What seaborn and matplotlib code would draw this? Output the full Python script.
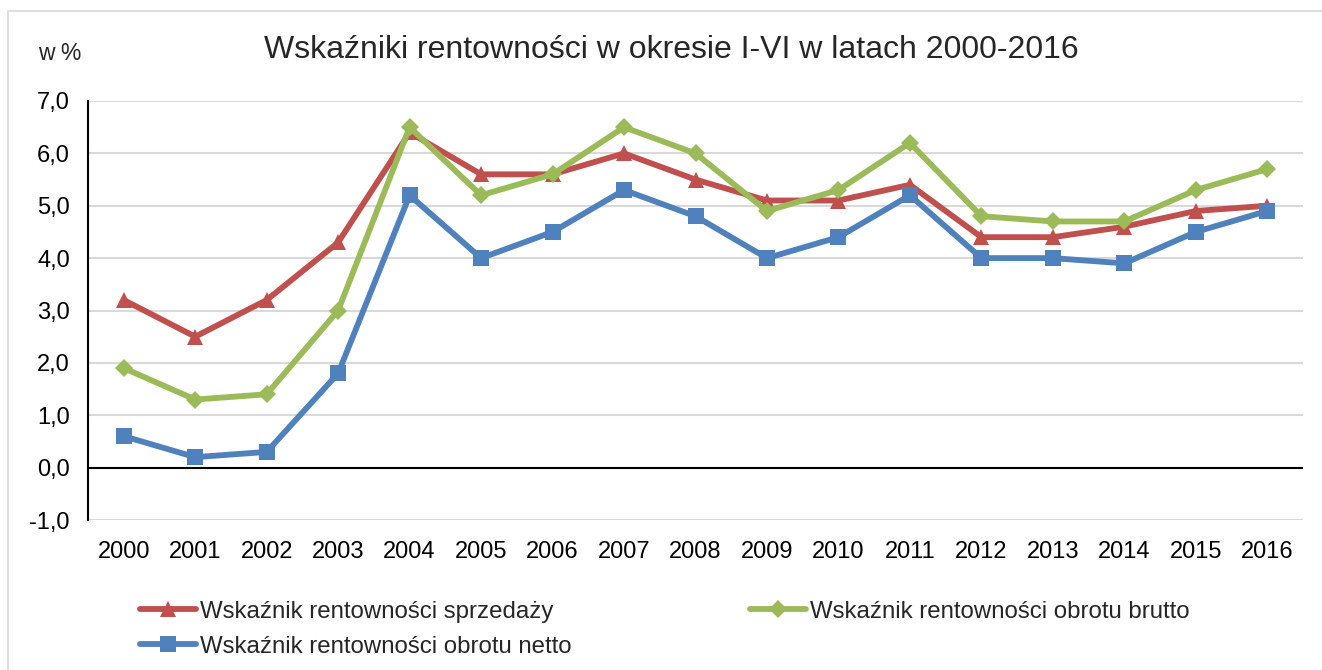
import numpy as np
import pandas as pd
import matplotlib
matplotlib.use("Agg")
import matplotlib.pyplot as plt
import seaborn as sns
from matplotlib.patches import Rectangle
from matplotlib.ticker import FuncFormatter

years = [2000, 2001, 2002, 2003, 2004, 2005, 2006, 2007, 2008,
         2009, 2010, 2011, 2012, 2013, 2014, 2015, 2016]
sprzedazy = [3.2, 2.5, 3.2, 4.3, 6.4, 5.6, 5.6, 6.0, 5.5,
             5.1, 5.1, 5.4, 4.4, 4.4, 4.6, 4.9, 5.0]
brutto = [1.9, 1.3, 1.4, 3.0, 6.5, 5.2, 5.6, 6.5, 6.0,
          4.9, 5.3, 6.2, 4.8, 4.7, 4.7, 5.3, 5.7]
netto = [0.6, 0.2, 0.3, 1.8, 5.2, 4.0, 4.5, 5.3, 4.8,
         4.0, 4.4, 5.2, 4.0, 4.0, 3.9, 4.5, 4.9]
series_names = ["Wskaźnik rentowności sprzedaży",
                "Wskaźnik rentowności obrotu brutto",
                "Wskaźnik rentowności obrotu netto"]
title = "Wskaźniki rentowności w okresie I-VI w latach 2000-2016"
unit_label = "w %"

sns.set_style("white")
plt.rcParams['font.family'] = ['Liberation Sans', 'DejaVu Sans']

fig = plt.figure(figsize=(13.22, 6.70), dpi=100)
ax = fig.add_axes([88/1322, 1 - 520/670, (1303-88)/1322, (520-101)/670])

colors = ["#C0504D", "#9BBB59", "#4F81BD"]
markers = ["^", "D", "s"]
msizes = [11, 9, 11]
for vals, name, c, m, ms, z in zip([sprzedazy, brutto, netto], series_names,
                                   colors, markers, msizes, [3, 4, 5]):
    df = pd.DataFrame({"year": years, "value": vals})
    sns.lineplot(data=df, x="year", y="value", ax=ax, color=c, linewidth=4.2,
                 marker=m, markersize=ms, markeredgewidth=0, label=name,
                 zorder=z)

ax.set_xlim(1999.5, 2016.5)
ax.set_ylim(-1, 7)
ax.set_yticks(np.arange(-1, 7.01, 1))
ax.yaxis.set_major_formatter(FuncFormatter(lambda v, p: f"{v:.1f}".replace(".", ",")))
ax.set_xticks(years)
ax.set_xticklabels([str(y) for y in years])
ax.tick_params(axis="both", labelsize=17, length=0, colors="black")
ax.tick_params(axis="x", pad=15)
ax.tick_params(axis="y", pad=13)
ax.set_xlabel("")
ax.set_ylabel("")
ax.grid(axis="y", color="#D9D9D9", linewidth=1.5)
ax.set_axisbelow(True)
for s in ["top", "right", "bottom"]:
    ax.spines[s].set_visible(False)
ax.spines["left"].set_color("black")
ax.spines["left"].set_linewidth(1.5)
ax.axhline(0, color="black", linewidth=1.5, zorder=2)

ax.get_legend().remove()
handles, labels = ax.get_legend_handles_labels()
order = [0, 2, 1]
fig.legend([handles[i] for i in order], [labels[i] for i in order],
           ncol=2, loc="upper left",
           bbox_to_anchor=(130/1322, 1 - 591/670), frameon=False,
           fontsize=17.3, handlelength=2.35, handletextpad=0.17,
           columnspacing=7.4, labelspacing=0.55, borderaxespad=0)

fig.text(671/1322, 1 - 50/670, title, ha="center", va="center", fontsize=23)
fig.text(38/1322, 1 - 53/670, unit_label, ha="left", va="center", fontsize=16.5)

fig.patches.append(Rectangle((8/1322, -0.1), 1.2, 1 - 11/670 + 0.1,
                             transform=fig.transFigure, fill=False,
                             edgecolor="#D9D9D9", linewidth=1.2))

fig.savefig("out.png", dpi=100)
